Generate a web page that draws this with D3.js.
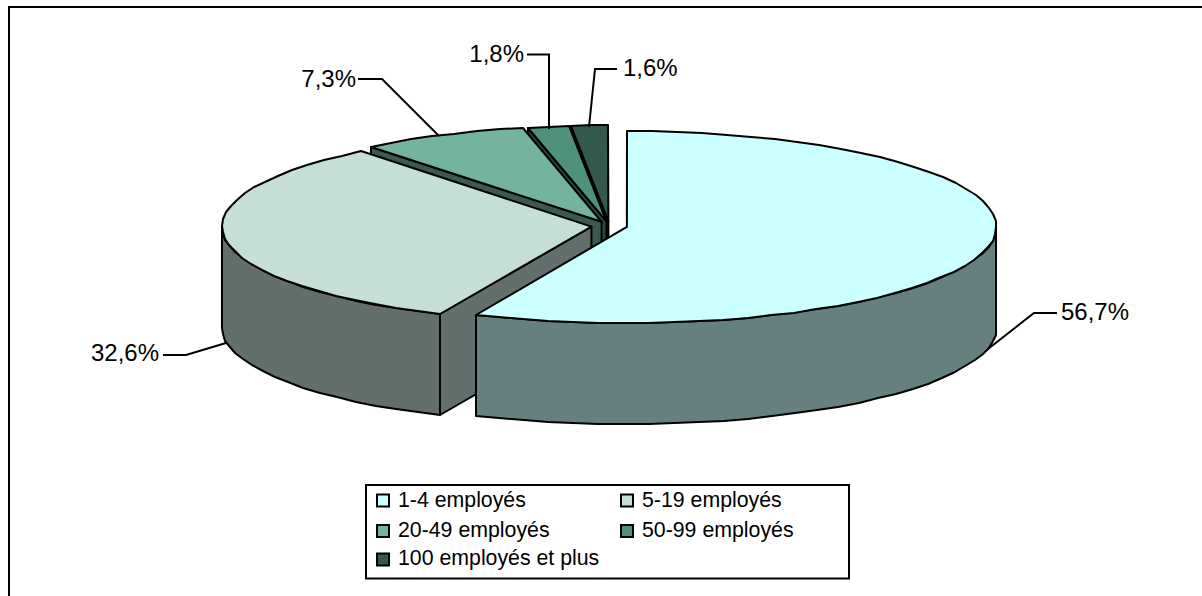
<!DOCTYPE html>
<html>
<head>
<meta charset="utf-8">
<script src="https://cdn.jsdelivr.net/npm/d3@7"></script>
<style>
  html, body { margin: 0; padding: 0; background: #fff; overflow: hidden; }
  svg { display: block; }
  text { font-family: "Liberation Sans", Arial, sans-serif; fill: #000; }
</style>
</head>
<body>
<svg id="chart" width="1202" height="596"></svg>
<script>
var categories = ["1-4 employés", "5-19 employés", "20-49 employés", "50-99 employés", "100 employés et plus"]
var shares = [56.7, 32.6, 7.3, 1.8, 1.6]
var topColors = ["#ccffff", "#c6ded8", "#73b3a0", "#4f917d", "#33584c"]

// hand placed in the original, so kept by hand here too
var labelSpots = [
  { x: 1061, y: 320, anchor: "start", line: [[1057, 313], [1034, 313], [988, 349]] },
  { x: 159, y: 361, anchor: "end", line: [[163, 355], [186, 355], [226, 343]] },
  { x: 356, y: 86.5, anchor: "end", line: [[358, 79], [382, 79], [439, 136]] },
  { x: 524, y: 62, anchor: "end", line: [[527, 54.5], [549, 54.5], [549, 129]] },
  { x: 623, y: 76, anchor: "start", line: [[617, 69], [595, 69], [589, 127]] }
]
var legendSpots = [
  { x: 377, y: 500.5, base: 507 }, { x: 621, y: 500.5, base: 507 },
  { x: 377, y: 531, base: 537 }, { x: 621, y: 531, base: 537 },
  { x: 377, y: 559.5, base: 565 }
]

var cx = 609.3, cy = 226, rx = 369.5, ry = 96, depth = 101, explode = 18

var svg = d3.select("#chart")
var comma = d3.formatLocale({ decimal: ",", thousands: " ", grouping: [3], currency: ["", ""] }).format(".1f")

var scaleX = d3.scaleLinear().domain([-1, 1]).range([cx - rx, cx + rx])
var scaleY = d3.scaleLinear().domain([-1, 1]).range([cy + ry, cy - ry])

var arcs = d3.pie().sort(null).value(function(d) { return d })(shares)

// frame only shows on the top and left sides
svg.append("path")
  .attr("d", "M9,596V7H1202")
  .attr("fill", "none")
  .attr("stroke", "#000")
  .attr("stroke-width", 2)

function darker(c) {
  var r = d3.rgb(c)
  return d3.rgb(r.r / 2, r.g / 2, r.b / 2).formatHex()
}

// point on a slice rim, rounded to whole pixels to get the faceted outline
function rim(a, off, drop) {
  return [
    Math.round(scaleX(Math.sin(a)) + off[0]),
    Math.round(scaleY(Math.cos(a)) + off[1] + drop)
  ]
}

function sampleArc(a0, a1, off, drop) {
  var pts = []
  var n = Math.max(1, Math.ceil((a1 - a0) / (Math.PI / 45)))
  for (var i = 0; i <= n; i++) {
    pts.push(rim(a0 + (a1 - a0) * i / n, off, drop))
  }
  return pts
}

var line = d3.line()
var pieG = svg.append("g")

function face(pts, fill) {
  pieG.append("path")
    .attr("d", line(pts) + "Z")
    .attr("fill", fill)
    .attr("stroke", "#000")
    .attr("stroke-width", 2)
    .attr("stroke-linejoin", "round")
}

// painter's order, the small back slices first
arcs.slice().reverse().forEach(function(d) {
  var mid = (d.startAngle + d.endAngle) / 2
  var off = [explode * Math.sin(mid), -explode * Math.cos(mid) * ry / rx]
  var apex = [cx + off[0], cy + off[1]]
  var side = darker(topColors[d.index])
  var apexLow = [apex[0], apex[1] + depth]

  if (Math.sin(d.startAngle) < -0.001) {
    face([apex, rim(d.startAngle, off, 0), rim(d.startAngle, off, depth), apexLow], side)
  }

  var w0 = Math.max(d.startAngle, Math.PI / 2)
  var w1 = Math.min(d.endAngle, Math.PI * 1.5)
  if (w1 > w0) {
    var upper = sampleArc(w0, w1, off, 0)
    var lower = sampleArc(w0, w1, off, depth).reverse()
    face(upper.concat(lower), side)
  }

  face([apex].concat(sampleArc(d.startAngle, d.endAngle, off, 0)), topColors[d.index])
})

// leader lines and values
var labels = svg.append("g").selectAll("g")
  .data(arcs)
  .enter()
  .append("g")

labels.append("path")
  .attr("d", function(d) { return line(labelSpots[d.index].line) })
  .attr("fill", "none")
  .attr("stroke", "#000")
  .attr("stroke-width", 2)

labels.append("text")
  .attr("x", function(d) { return labelSpots[d.index].x })
  .attr("y", function(d) { return labelSpots[d.index].y })
  .attr("text-anchor", function(d) { return labelSpots[d.index].anchor })
  .attr("font-size", "24px")
  .text(function(d) { return comma(d.data) + "%" })

// legend
svg.append("rect")
  .attr("x", 366)
  .attr("y", 485)
  .attr("width", 483)
  .attr("height", 93.5)
  .attr("fill", "#fff")
  .attr("stroke", "#000")
  .attr("stroke-width", 2)

var legend = svg.append("g").selectAll("g")
  .data(categories)
  .enter()
  .append("g")

legend.append("rect")
  .attr("x", function(d, i) { return legendSpots[i].x })
  .attr("y", function(d, i) { return legendSpots[i].y - 6 })
  .attr("width", 12)
  .attr("height", 12)
  .attr("fill", function(d, i) { return topColors[i] })
  .attr("stroke", "#000")
  .attr("stroke-width", 2)

legend.append("text")
  .attr("x", function(d, i) { return legendSpots[i].x + 21 })
  .attr("y", function(d, i) { return legendSpots[i].base })
  .attr("font-size", "21.3px")
  .text(function(d) { return d })
</script>
</body>
</html>
